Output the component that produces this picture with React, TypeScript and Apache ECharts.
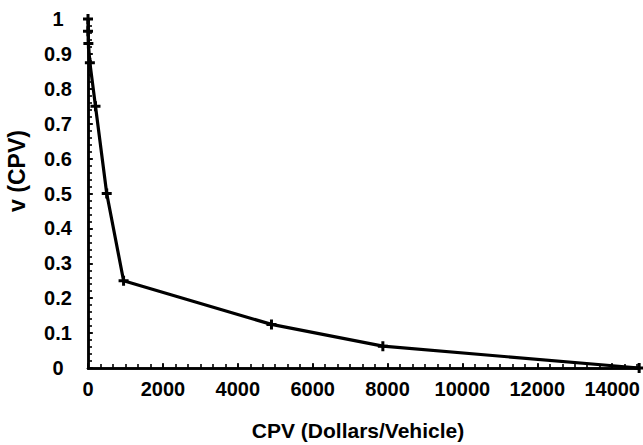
import React, { useEffect, useRef } from "react";
import * as echarts from "echarts";

const cpv = [0, 0, 10, 50, 200, 500, 950, 4900, 7875, 14720];
const value = [1, 0.965, 0.93, 0.875, 0.75, 0.5, 0.25, 0.125, 0.0625, 0];
const xTitle = "CPV (Dollars/Vehicle)";
const yTitle = "v (CPV)";

const FONT = '"Liberation Sans", Arial, sans-serif';
const X_MAX = 14720;
const X_STEP = 2000;
const X_MINOR = 2000 / 6;
const Y_STEP = 0.1;
const Y_MINOR = 0.02;

export default function App() {
  const ref = useRef<HTMLDivElement>(null);
  useEffect(() => {
    document.body.style.margin = "0";
    const chart = echarts.init(ref.current!, null, { renderer: "svg" });
    const data = cpv.map((x, i) => [x, value[i]]);
    const tickOnly = {
      type: "value",
      min: 0,
      axisLine: { show: true, onZero: false, lineStyle: { color: "#000", width: 2.5 } },
      axisLabel: { show: false },
      splitLine: { show: false },
      axisTick: { show: true, inside: true, length: 4, lineStyle: { color: "#000", width: 1.6 } },
    };
    chart.setOption({
      animation: false,
      backgroundColor: "#fff",
      grid: { left: 88, right: 3, top: 19, bottom: 77 },
      xAxis: [
        {
          type: "value",
          min: 0,
          max: X_MAX,
          interval: X_STEP,
          axisLine: { show: true, onZero: false, lineStyle: { color: "#000", width: 2.5 } },
          axisTick: { show: true, inside: true, length: 5, lineStyle: { color: "#000", width: 1.6 } },
          splitLine: { show: false },
          axisLabel: {
            color: "#000",
            fontFamily: FONT,
            fontWeight: "bold",
            fontSize: 20,
            margin: 11,
            showMaxLabel: false,
            formatter: (v: number) => String(v),
          },
        },
        { ...tickOnly, position: "bottom", max: X_MAX, interval: X_MINOR },
      ],
      yAxis: [
        {
          type: "value",
          min: 0,
          max: 1,
          interval: Y_STEP,
          axisLine: { show: true, onZero: false, lineStyle: { color: "#000", width: 2.5 } },
          axisTick: { show: true, inside: true, length: 5, lineStyle: { color: "#000", width: 1.6 } },
          splitLine: { show: false },
          axisLabel: {
            color: "#000",
            fontFamily: FONT,
            fontWeight: "bold",
            fontSize: 20,
            margin: 30,
            align: "center",
          },
        },
        { ...tickOnly, position: "left", max: 1, interval: Y_MINOR },
      ],
      graphic: [
        {
          type: "text",
          x: 358,
          y: 430,
          style: {
            text: xTitle,
            fill: "#000",
            font: `bold 21px ${FONT}`,
            align: "center",
            verticalAlign: "middle",
          },
        },
        {
          type: "text",
          x: 17,
          y: 171,
          rotation: Math.PI / 2,
          style: {
            text: yTitle,
            fill: "#000",
            font: `bold 23px ${FONT}`,
            align: "center",
            verticalAlign: "middle",
          },
        },
      ],
      series: [
        {
          type: "line",
          data,
          xAxisIndex: 0,
          yAxisIndex: 0,
          symbol: "path://M3.5,0H6.5V3.5H10V6.5H6.5V10H3.5V6.5H0V3.5H3.5Z",
          symbolSize: 10,
          itemStyle: { color: "#000" },
          lineStyle: { color: "#000", width: 3.2 },
          z: 5,
        },
      ],
    });
    return () => chart.dispose();
  }, []);
  return <div ref={ref} style={{ width: 643, height: 445 }} />;
}
